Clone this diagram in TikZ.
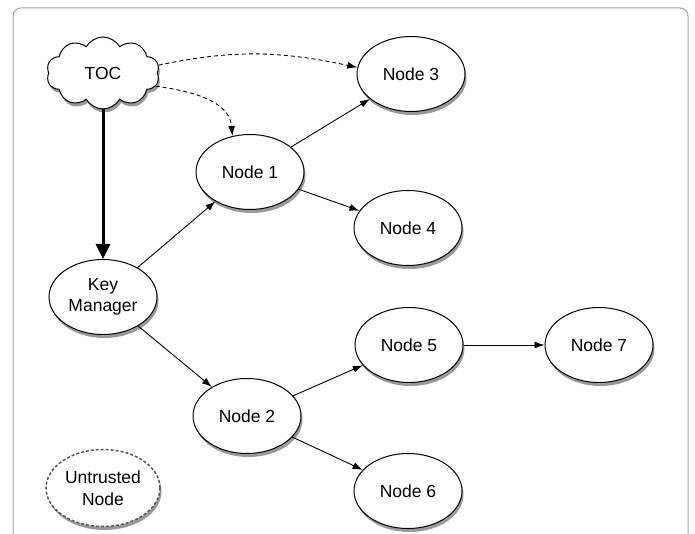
\documentclass[tikz,border=0pt]{standalone}
\usepackage{fontspec}
\setmainfont{Liberation Sans}
\usetikzlibrary{shapes.geometric,shapes.symbols,arrows.meta,shadows}
\begin{document}
\begin{tikzpicture}[x=1pt,y=-1pt,
  myshadow/.style={drop shadow={shadow xshift=1.5pt, shadow yshift=-3.5pt, opacity=0.4, fill=black}},
  nodebox/.style={ellipse, draw, line width=1pt, fill=white, minimum width=108pt, minimum height=75pt, inner sep=0pt,
    font=\fontsize{17.5}{21.5}\selectfont, align=center, myshadow},
  cloudbox/.style={cloud, cloud puffs=10, cloud puff arc=120, aspect=1.6, draw, line width=1pt, fill=white,
    minimum width=113pt, minimum height=72pt, inner sep=0pt, font=\fontsize{17.5}{21.5}\selectfont, myshadow},
  edge/.style={line width=0.9pt, -{Latex[length=10pt,width=7pt]}},
  dashedge/.style={edge, dash pattern=on 4pt off 3pt},
  thickedge/.style={line width=3pt, -{Triangle[length=15pt,width=14pt]}},
  frame/.style={draw=black!35, line width=1pt, rounded corners=8pt}
]
\useasboundingbox (0,0) rectangle (695,534);
\draw[frame] (13,540) -- (13,8) -- (688,8) -- (688,540);

\node[cloudbox] (toc) at (103,73) {TOC};
\node[nodebox] (n3) at (411,74) {Node 3};
\node[nodebox] (n1) at (250,172) {Node 1};
\node[nodebox] (n4) at (408,228) {Node 4};
\node[nodebox] (km) at (103,297) {Key\\Manager};
\node[nodebox] (n5) at (409,345) {Node 5};
\node[nodebox] (n7) at (599,345) {Node 7};
\node[nodebox] (n2) at (247,416) {Node 2};
\node[nodebox] (n6) at (408,491) {Node 6};
\node[nodebox, draw=black!65, line width=1.5pt, dash pattern=on 3pt off 2pt, minimum width=114pt, minimum height=77pt] (un) at (103,488) {Untrusted\\Node};

\draw[thickedge] (toc) -- (km);
\draw[dashedge] (toc.8) to[out=12, in=168] (n3.173);
\draw[dashedge] (toc.-14) to[out=-8, in=95] (n1.116);
\draw[edge] (km) -- (n1);
\draw[edge] (km) -- (n2);
\draw[edge] (n1) -- (n3);
\draw[edge] (n1) -- (n4);
\draw[edge] (n2) -- (n5);
\draw[edge] (n2) -- (n6);
\draw[edge] (n5) -- (n7);
\end{tikzpicture}
\end{document}
